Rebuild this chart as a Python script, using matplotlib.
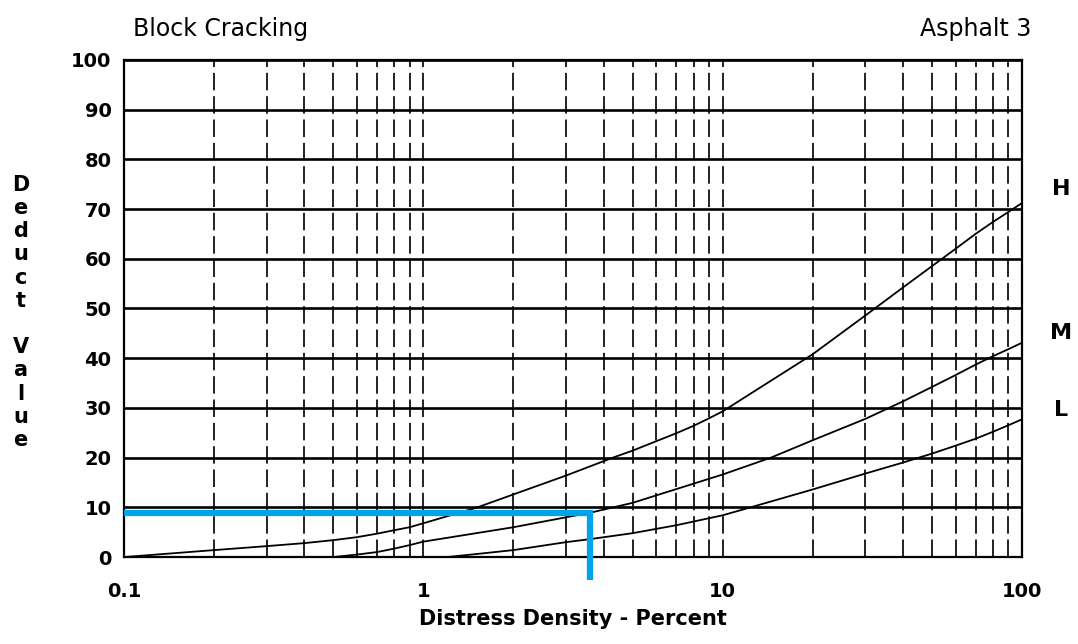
import numpy as np
from matplotlib import pyplot as plt
from matplotlib.ticker import FixedLocator, LogLocator, NullFormatter

# deduct curves (distress density %, deduct value)
h_x = [0.1, 0.2, 0.3, 0.4, 0.5, 0.6, 0.7, 0.8, 0.9, 1, 1.5, 2, 3, 4.3, 5, 6, 7, 8, 9, 10,
       20, 30, 40, 60, 70, 80, 90, 100]
h_y = [0, 1.4, 2.2, 2.8, 3.4, 4.0, 4.7, 5.4, 6.0, 6.8, 9.9, 12.6, 16.4, 20, 21.4, 23.3, 24.9,
       26.4, 27.9, 29.3, 40.8, 48.6, 54.2, 62, 65, 67.4, 69.4, 71.2]

m_x = [0.5, 0.6, 0.7, 0.8, 0.9, 1, 2, 3, 3.6, 5, 10, 14.5, 20, 30, 40, 50, 60, 70, 80, 90, 100]
m_y = [0, 0.5, 1.0, 1.7, 2.4, 3.1, 6.0, 8.0, 8.9, 10.9, 16.6, 20, 23.5, 27.8, 31.3, 34.2,
       36.6, 38.7, 40.4, 41.8, 43.1]

l_x = [1.2, 1.5, 2, 3, 3.6, 5, 7, 10, 12.4, 20, 30, 40, 50, 60, 70, 80, 90, 100]
l_y = [0, 0.6, 1.4, 3.0, 3.6, 4.8, 6.4, 8.4, 10, 13.6, 16.8, 19, 20.8, 22.4, 23.8, 25.2,
       26.5, 27.7]

curve_labels = ["H", "M", "L"]
label_y = [74, 45, 29.5]

# highlighted reading: density 3.6 % -> deduct value 8.8
read_x = 3.6
read_y = 8.8

x_ticks = [0.1, 1, 10, 100]
x_tick_labels = ["0.1", "1", "10", "100"]
y_ticks = list(range(0, 101, 10))

plt.rcParams["font.family"] = ["DejaVu Sans"]

fig = plt.figure(figsize=(10.78, 6.44), dpi=100)
ax = fig.add_axes([0.115, 0.135, 0.833, 0.772])

ax.set_xscale("log")
ax.set_xlim(0.1, 100)
ax.set_ylim(0, 100)

ax.xaxis.set_major_locator(FixedLocator(x_ticks))
ax.set_xticklabels(x_tick_labels)
ax.xaxis.set_minor_locator(LogLocator(base=10, subs=np.arange(2, 10)))
ax.xaxis.set_minor_formatter(NullFormatter())
ax.set_yticks(y_ticks)

ax.grid(True, axis="x", which="both", color="#222222", linestyle=(0, (9, 3)), linewidth=1.4)
ax.grid(True, axis="y", which="major", color="black", linestyle="-", linewidth=1.9)
ax.tick_params(which="both", length=0, labelsize=14)
ax.tick_params(axis="x", pad=18)
ax.tick_params(axis="y", pad=9)
for lab in ax.get_xticklabels() + ax.get_yticklabels():
    lab.set_fontweight("bold")
for s in ax.spines.values():
    s.set_linewidth(1.6)

for xs, ys in [(h_x, h_y), (m_x, m_y), (l_x, l_y)]:
    ax.plot(xs, ys, color="black", linewidth=1.3)

for name, yv in zip(curve_labels, label_y):
    ax.text(135, yv, name, fontsize=16, fontweight="bold", ha="center", va="center",
            clip_on=False)

ax.plot([0.1, read_x, read_x], [read_y, read_y, -4.6], color="#00A2E8",
        linewidth=4.5, solid_joinstyle="miter", solid_capstyle="butt", clip_on=False, zorder=5)

fig.text(0.123, 0.955, "Block Cracking", fontsize=17, ha="left", va="center")
fig.text(0.957, 0.955, "Asphalt 3", fontsize=17, ha="right", va="center")
fig.text(0.019, 0.515, "D\ne\nd\nu\nc\nt\n\nV\na\nl\nu\ne", fontsize=15,
         ha="center", va="center", linespacing=1.2, fontweight="bold")
ax.set_xlabel("Distress Density - Percent", fontsize=15, fontweight="bold", labelpad=6)

plt.savefig("out.png")
plt.close("all")
